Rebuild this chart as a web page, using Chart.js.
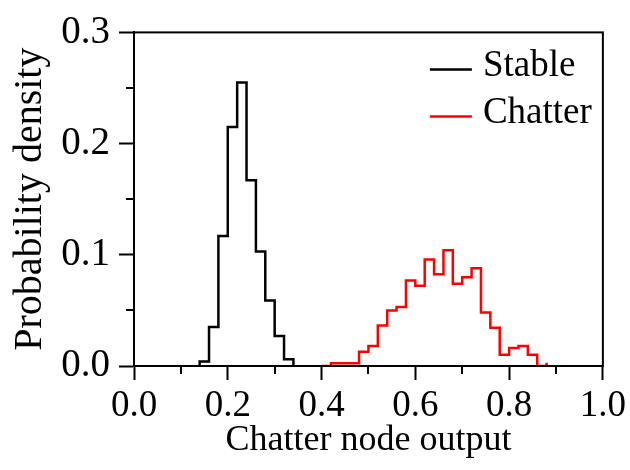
<!DOCTYPE html>
<html>
<head>
<meta charset="utf-8">
<script src="https://cdn.jsdelivr.net/npm/chart.js@4.4.1/dist/chart.umd.min.js"></script>
<style>
    html, body { margin: 0; padding: 0; background: #fff; }
</style>
</head>
<body>
<canvas id="densityChart" width="630" height="470"></canvas>
<script>
// histogram bin edges (width 0.02) and density per bin
const stableEdges = [0.14, 0.16, 0.18, 0.20, 0.22, 0.24, 0.26, 0.28, 0.30, 0.32, 0.34];
const stableDensity = [0.004, 0.035, 0.117, 0.215, 0.255, 0.167, 0.103, 0.059, 0.027, 0.006];

const chatterEdges = [0.40, 0.42, 0.44, 0.46, 0.48, 0.50, 0.52, 0.54, 0.56, 0.58, 0.60, 0.62,
    0.64, 0.66, 0.68, 0.70, 0.72, 0.74, 0.76, 0.78, 0.80, 0.82, 0.84, 0.86, 0.88];
const chatterDensity = [0, 0.0024, 0.0024, 0.0024, 0.0128, 0.0179, 0.0364, 0.0499, 0.0531, 0.077,
    0.0722, 0.0958, 0.0824, 0.104, 0.074, 0.0797, 0.0878, 0.048, 0.0343, 0.0101, 0.0161, 0.0179, 0.0101, 0];
const chatterTail = 0.003; // single sample just past the last edge

const xTickLabels = ['0.0', '0.2', '0.4', '0.6', '0.8', '1.0'];
const yTickLabels = ['0.0', '0.1', '0.2', '0.3'];

const serif = "'Liberation Serif', 'Times New Roman', serif";

// turn bins into step-after points: each point carries the bin that ends at it
const toSteps = (edges, density) => {
    const pts = [{ x: edges[0], y: 0 }];
    density.forEach((d, i) => pts.push({ x: edges[i + 1], y: d }));
    pts.push({ x: edges[edges.length - 1], y: 0 });
    return pts;
};

const stablePoints = toSteps(stableEdges, stableDensity);
const chatterPoints = toSteps(chatterEdges, chatterDensity);
chatterPoints.push({ x: chatterEdges[chatterEdges.length - 1], y: chatterTail });

const xMajor = (v) => Math.round(v * 10) % 2 === 0;
const yMajor = (v) => Math.round(v * 100) % 10 === 0;

// frame, minor ticks and the legend drawn inside the plot box
const frameAndLegend = {
    id: 'frameAndLegend',
    afterDraw(chart) {
        const { ctx, chartArea: a, scales } = chart;
        ctx.save();
        ctx.strokeStyle = '#000';
        ctx.lineWidth = 2;
        ctx.strokeRect(a.left, a.top, a.right - a.left, a.bottom - a.top);

        ctx.beginPath();
        scales.x.ticks.forEach((t) => {
            if (xMajor(t.value)) return;
            const px = Math.round(scales.x.getPixelForValue(t.value));
            ctx.moveTo(px, a.bottom);
            ctx.lineTo(px, a.bottom + 8);
        });
        scales.y.ticks.forEach((t) => {
            if (yMajor(t.value)) return;
            const py = Math.round(scales.y.getPixelForValue(t.value));
            ctx.moveTo(a.left, py);
            ctx.lineTo(a.left - 8, py);
        });
        ctx.stroke();

        ctx.font = `37px ${serif}`;
        ctx.fillStyle = '#000';
        ctx.textBaseline = 'alphabetic';
        ctx.lineWidth = 2.5;
        chart.data.datasets.forEach((ds, i) => {
            const base = a.top + 44 + i * 47;
            ctx.strokeStyle = ds.borderColor;
            ctx.beginPath();
            ctx.moveTo(a.right - 173, base - 7);
            ctx.lineTo(a.right - 131, base - 7);
            ctx.stroke();
            ctx.fillText(ds.label, a.right - 120, base);
        });
        ctx.restore();
    },
};

new Chart(document.getElementById('densityChart').getContext('2d'), {
    type: 'line',
    data: {
        datasets: [
            {
                label: 'Stable',
                data: stablePoints,
                borderColor: '#000000',
                borderWidth: 2.5,
                pointRadius: 0,
                stepped: 'after',
                fill: false,
            },
            {
                label: 'Chatter',
                data: chatterPoints,
                borderColor: '#ff0000',
                borderWidth: 2.5,
                pointRadius: 0,
                stepped: 'after',
                fill: false,
            },
        ],
    },
    options: {
        responsive: false,
        animation: false,
        layout: {
            padding: { left: 0, right: 24, top: 31, bottom: 0 },
        },
        plugins: {
            legend: { display: false },
            tooltip: { enabled: false },
        },
        scales: {
            x: {
                type: 'linear',
                min: 0,
                max: 1,
                afterFit: (scale) => { scale.height = 104; },
                border: { display: true, color: '#000', width: 2 },
                grid: {
                    drawOnChartArea: false,
                    drawTicks: true,
                    tickLength: 14,
                    tickWidth: 2,
                    tickColor: (c) => (c.tick && xMajor(c.tick.value) ? '#000' : 'rgba(0,0,0,0)'),
                },
                ticks: {
                    stepSize: 0.1,
                    padding: 4,
                    color: '#000',
                    font: { family: serif, size: 37 },
                    maxRotation: 0,
                    autoSkip: false,
                    callback: (v) => (xMajor(v) && xTickLabels.includes(v.toFixed(1)) ? v.toFixed(1) : ''),
                },
                title: {
                    display: true,
                    text: 'Chatter node output',
                    color: '#000',
                    font: { family: serif, size: 36 },
                    padding: { top: 0, bottom: 8 },
                },
            },
            y: {
                min: 0,
                max: 0.3,
                afterFit: (scale) => { scale.width = 134; },
                border: { display: true, color: '#000', width: 2 },
                grid: {
                    drawOnChartArea: false,
                    drawTicks: true,
                    tickLength: 15,
                    tickWidth: 2,
                    tickColor: (c) => (c.tick && yMajor(c.tick.value) ? '#000' : 'rgba(0,0,0,0)'),
                },
                ticks: {
                    stepSize: 0.05,
                    padding: 9,
                    color: '#000',
                    font: { family: serif, size: 39 },
                    autoSkip: false,
                    callback: (v) => (yMajor(v) && yTickLabels.includes(v.toFixed(1)) ? v.toFixed(1) : ''),
                },
                title: {
                    display: true,
                    text: 'Probability density',
                    color: '#000',
                    font: { family: serif, size: 40 },
                    padding: { top: 6, bottom: 0 },
                },
            },
        },
    },
    plugins: [frameAndLegend],
});
</script>
</body>
</html>
